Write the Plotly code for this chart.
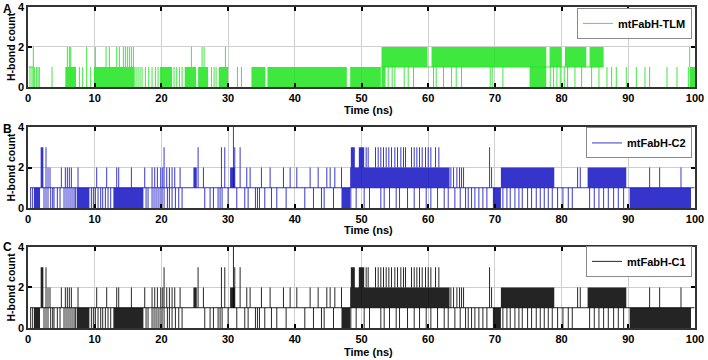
import plotly.graph_objects as go

# ---------------- DATA ----------------
x_ticks = [0, 10, 20, 30, 40, 50, 60, 70, 80, 90, 100]
y_ticks = [0, 2, 4]
series_names = ["mtFabH-TLM", "mtFabH-C2", "mtFabH-C1"]
panel_letters = ["A", "B", "C"]
x_title = "Time (ns)"
y_title = "H-bond count"

# ---- Panel A (mtFabH-TLM) ----
# stretches where the count flips back and forth continuously (start ns, end ns, low count, high count)
A_band_t0 = [5.6, 9.9, 13.3, 19.8, 23.5, 25.5, 28.6, 33.5, 35.9, 48.3, 53.0, 60.5, 78.2, 80.5, 84.2, 53.0, 75.2, 99.2]
A_band_t1 = [7.2, 13.3, 16.0, 21.6, 25.2, 27.0, 30.0, 35.6, 47.8, 52.9, 59.9, 77.7, 80.0, 83.7, 86.3, 53.6, 77.7, 100.0]
A_band_lo = [0, 0, 0, 0, 0, 0, 0, 0, 0, 0, 1, 1, 1, 1, 1, 0, 0, 0]
A_band_hi = [1, 1, 1, 1, 1, 1, 1, 1, 1, 1, 2, 2, 2, 2, 2, 1, 1, 1]
# isolated excursions, by (from count, to count)
A_spk_0_1 = [0.3, 0.6, 1.0, 1.3, 1.5, 1.7, 3.6, 7.7, 8.2, 9.4, 16.2, 16.5, 16.8, 17.1, 17.6, 18.1, 18.6,
             19.1, 19.5, 21.9, 22.3, 22.7, 23.1, 27.5, 27.9, 28.2, 31.4, 32.0, 54.0, 54.6, 55.0, 56.4,
             57.0, 57.8, 60.8, 61.2, 62.3, 63.5, 64.2, 65.0, 69.3, 69.6, 71.2, 78.3, 78.8, 79.3, 79.8,
             80.4, 80.9, 82.0, 83.0, 84.5, 85.6, 86.8, 87.5, 88.2, 89.7, 91.2, 92.5, 93.2, 95.8, 97.3, 99.0]
A_spk_1_2 = [5.9, 6.2, 6.4, 10.1, 11.7, 12.2, 13.3, 13.7, 14.3, 14.6, 14.9, 15.2, 15.5, 15.8, 24.5, 26.1,
             26.4, 29.6, 99.2]
A_spk_0_2 = [0.8, 8.8]
A_spk_1_3 = []
A_spk_1_4 = []
A_spk_2_3 = []
# resting levels (start ns, end ns, count)
A_rest_t0 = [0.1, 53.0]
A_rest_t1 = [0.8, 86.3]
A_rest_v = [1, 1]

# ---- Panel B (mtFabH-C2) ----
B_band_t0 = [0.9, 1.9, 7.3, 12.8, 24.8, 30.3, 47.0, 48.3, 48.4, 49.6, 69.7, 70.9, 83.9, 90.2]
B_band_t1 = [1.8, 2.3, 9.2, 17.3, 25.3, 31.0, 48.3, 63.2, 49.0, 50.4, 70.9, 78.9, 89.7, 99.4]
B_band_lo = [0, 1, 0, 0, 1, 1, 0, 1, 2, 2, 0, 1, 1, 0]
B_band_hi = [1, 3, 1, 1, 2, 2, 1, 2, 3, 3, 1, 2, 2, 1]
B_spk_0_1 = [0.4, 0.7, 2.4, 2.7, 3.0, 3.4, 3.7, 3.9, 4.4, 4.8, 5.4, 5.7, 6.0, 6.3, 6.6, 6.9, 7.1, 9.5,
             9.8, 10.1, 10.5, 10.9, 11.2, 11.6, 12.0, 12.4, 17.7, 18.0, 18.6, 18.9, 19.2, 19.5, 19.8,
             20.1, 20.4, 20.9, 21.2, 21.6, 22.1, 22.6, 23.1, 26.5, 27.3, 27.8, 28.5, 28.8, 29.1, 30.0,
             31.3, 32.5, 33.0, 34.1, 34.4, 34.7, 35.5, 36.5, 37.3, 38.7, 41.5, 42.8, 44.0, 44.4, 45.8,
             48.4, 49.2, 50.4, 51.2, 52.9, 53.4, 54.2, 55.2, 55.7, 56.9, 57.9, 58.7, 59.7, 60.4, 61.4,
             62.4, 63.0, 64.0, 64.8, 65.6, 66.0, 66.5, 67.0, 67.6, 68.2, 68.8, 71.2, 71.8, 72.3, 73.0,
             73.6, 74.1, 74.9, 75.5, 76.2, 76.8, 77.4, 78.0, 78.6, 79.4, 80.2, 81.0, 81.6, 84.2, 84.9,
             85.6, 86.3, 87.0, 87.8, 88.5, 89.3]
B_spk_1_2 = [3.0, 3.3, 5.0, 5.6, 5.9, 6.2, 6.5, 7.5, 10.3, 11.8, 13.3, 13.6, 15.5, 17.5, 18.6, 19.0,
             19.4, 19.9, 20.2, 20.8, 21.2, 21.6, 22.0, 22.8, 26.3, 32.8, 33.3, 35.0, 36.3, 38.3, 39.3,
             40.3, 42.3, 43.5, 44.8, 45.3, 46.0, 47.0, 63.4, 63.8, 64.3, 64.7, 65.0, 65.3, 69.5, 82.4,
             82.8, 93.2, 94.7, 97.9]
B_spk_0_2 = []
B_spk_1_3 = [2.7, 20.4, 25.5, 29.0, 29.5, 31.0, 31.8, 69.2]
B_spk_1_4 = [30.8]
B_spk_2_3 = [50.7, 51.0, 52.1, 52.5, 52.9, 53.3, 53.7, 54.1, 54.5, 55.0, 55.4, 55.9, 56.3, 56.6, 57.5,
             57.9, 58.3, 58.7, 59.1, 59.6, 60.0, 60.4, 61.1, 61.6]
B_rest_t0 = [0.3]
B_rest_t1 = [99.9]
B_rest_v = [1]

# ---- Panel C (mtFabH-C1): the picture shows the same trajectory pattern as panel B ----
C_band_t0, C_band_t1, C_band_lo, C_band_hi = B_band_t0, B_band_t1, B_band_lo, B_band_hi
C_spk_0_1, C_spk_1_2, C_spk_0_2 = B_spk_0_1, B_spk_1_2, B_spk_0_2
C_spk_1_3, C_spk_1_4, C_spk_2_3 = B_spk_1_3, B_spk_1_4, B_spk_2_3
C_rest_t0, C_rest_t1, C_rest_v = B_rest_t0, B_rest_t1, B_rest_v

# ---------------- STYLE ----------------
colors = [(30, 228, 30), (20, 20, 195), (0, 0, 0)]
FONT = "Liberation Sans"
y_domains = [[0.7583, 0.9806], [0.4222, 0.6472], [0.0889, 0.3139]]
legend_tops = [0.978, 0.646, 0.317]
letter_y = [1.0, 0.666, 0.338]
xtitle_y = [0.6944, 0.3611, 0.0236]

panels = [
    (A_band_t0, A_band_t1, A_band_lo, A_band_hi,
     [(A_spk_0_1, 0, 1), (A_spk_1_2, 1, 2), (A_spk_0_2, 0, 2), (A_spk_1_3, 1, 3), (A_spk_1_4, 1, 4), (A_spk_2_3, 2, 3)],
     A_rest_t0, A_rest_t1, A_rest_v),
    (B_band_t0, B_band_t1, B_band_lo, B_band_hi,
     [(B_spk_0_1, 0, 1), (B_spk_1_2, 1, 2), (B_spk_0_2, 0, 2), (B_spk_1_3, 1, 3), (B_spk_1_4, 1, 4), (B_spk_2_3, 2, 3)],
     B_rest_t0, B_rest_t1, B_rest_v),
    (C_band_t0, C_band_t1, C_band_lo, C_band_hi,
     [(C_spk_0_1, 0, 1), (C_spk_1_2, 1, 2), (C_spk_0_2, 0, 2), (C_spk_1_3, 1, 3), (C_spk_1_4, 1, 4), (C_spk_2_3, 2, 3)],
     C_rest_t0, C_rest_t1, C_rest_v),
]

fig = go.Figure()
layout = dict(
    width=708, height=360, margin=dict(l=28, r=13, t=0, b=0),
    paper_bgcolor="white", plot_bgcolor="white", showlegend=True,
    font=dict(family=FONT, size=11, color="black", weight="bold"),
)
annotations = []
for i, (bt0, bt1, blo, bhi, spikes, rt0, rt1, rv) in enumerate(panels):
    r, g, b = colors[i]
    xa = "x" if i == 0 else f"x{i+1}"
    ya = "y" if i == 0 else f"y{i+1}"
    leg = "legend" if i == 0 else f"legend{i+1}"
    # continuous-flipping stretches drawn as filled blocks
    xs, ys = [], []
    for t0, t1, lo, hi in zip(bt0, bt1, blo, bhi):
        xs += [t0, t1, t1, t0, t0, None]
        ys += [lo, lo, hi, hi, lo, None]
    fig.add_trace(go.Scatter(
        x=xs, y=ys, mode="lines", fill="toself", line=dict(width=0),
        fillcolor=f"rgba({r},{g},{b},0.86)", hoverinfo="skip",
        showlegend=False, xaxis=xa, yaxis=ya))
    # isolated excursions + resting levels
    xs, ys = [], []
    for times, lo, hi in spikes:
        for t in times:
            xs += [t, t, None]
            ys += [lo, hi, None]
    for t0, t1, v in zip(rt0, rt1, rv):
        xs += [t0, t1, None]
        ys += [v, v, None]
    fig.add_trace(go.Scatter(
        x=xs, y=ys, mode="lines", name=series_names[i],
        line=dict(color=f"rgba({r},{g},{b},0.85)", width=1),
        xaxis=xa, yaxis=ya, legend=leg, showlegend=True))

    xkey = "xaxis" if i == 0 else f"xaxis{i+1}"
    ykey = "yaxis" if i == 0 else f"yaxis{i+1}"
    layout[xkey] = dict(
        domain=[0, 1], anchor=ya, range=[0, 100], tickvals=x_ticks,
        ticks="inside", ticklen=4, tickcolor="black", tickwidth=1.5, mirror="ticks",
        showline=True, linecolor="#333333", linewidth=1.5,
        showgrid=True, gridcolor="#cfcfcf", gridwidth=1, zeroline=False,
        tickfont=dict(family=FONT, size=11, weight="bold"),
        automargin=False,
    )
    layout[ykey] = dict(
        domain=y_domains[i], anchor=xa, range=[0, 4], tickvals=y_ticks,
        ticks="inside", ticklen=4, tickcolor="black", tickwidth=1.5, mirror="ticks",
        showline=True, linecolor="#333333", linewidth=1.5,
        showgrid=True, gridcolor="#cfcfcf", gridwidth=1, zeroline=False,
        tickfont=dict(family=FONT, size=11, weight="bold"),
        title=dict(text=y_title, standoff=0, font=dict(family=FONT, size=10.5, weight="bold")),
        automargin=False,
    )
    layout[leg] = dict(
        x=0.9955, xanchor="right", y=legend_tops[i], yanchor="top",
        bgcolor="white", bordercolor="#8a8a8a", borderwidth=1,
        font=dict(family=FONT, size=11, weight="bold"),
        itemwidth=30, tracegroupgap=0,
    )
    annotations.append(dict(
        text=panel_letters[i], xref="paper", yref="paper", x=-0.04, y=letter_y[i],
        xanchor="left", yanchor="top", showarrow=False,
        font=dict(family=FONT, size=12, weight="bold")))
    annotations.append(dict(
        text=x_title, xref="paper", yref="paper", x=0.51, y=xtitle_y[i],
        xanchor="center", yanchor="middle", showarrow=False,
        font=dict(family=FONT, size=11, weight="bold")))

layout["annotations"] = annotations
fig.update_layout(**layout)
fig.write_html("out.html", config={"displayModeBar": False},
               post_script="document.body.style.margin='0';document.body.style.overflow='hidden';")
